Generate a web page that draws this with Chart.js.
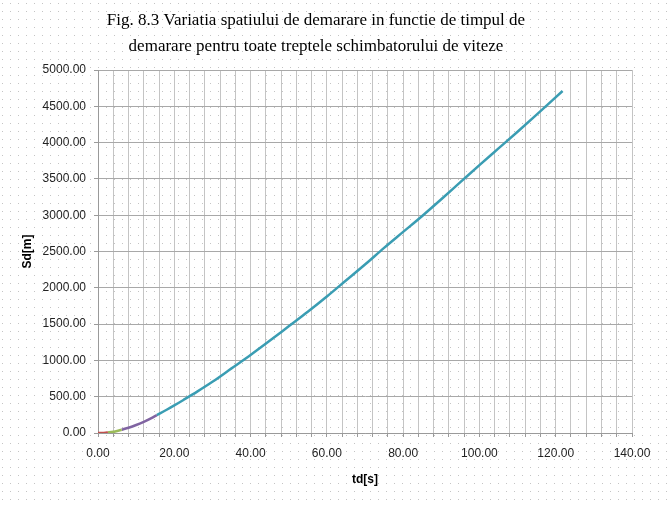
<!DOCTYPE html>
<html>
<head>
<meta charset="utf-8">
<script src="https://cdn.jsdelivr.net/npm/chart.js@4/dist/chart.umd.min.js"></script>
<style>
  html, body { margin: 0; padding: 0; background: #ffffff; }
  #wrap { width: 667px; height: 505px; }
</style>
</head>
<body>
<div id="wrap"><canvas id="c" width="667" height="505"></canvas></div>
<script>
// ---- data ----
const titleLines = [
  "Fig. 8.3 Variatia spatiului de demarare in functie de timpul de",
  "demarare pentru toate treptele schimbatorului de viteze"
];
const xTitle = "td[s]";
const yTitle = "Sd[m]";

// gear 1
const t1 = [0, 1, 2, 2.6];
const s1 = [0, 1.2, 4.5, 7.5];
// gear 2
const t2 = [2.6, 3.5, 4.5, 5.5, 6.2];
const s2 = [7.5, 13, 22, 34, 45];
// gear 3
const t3 = [6.2, 8, 10, 12, 14, 15.4];
const s3 = [45, 73, 110, 153, 205, 245];
// gear 4
const t4 = [15.4, 18, 20, 22.4, 26, 30, 35, 40, 45, 50, 55, 60, 65, 70, 75, 80, 85, 90, 95, 100, 105, 110, 115, 121.8];
const s4 = [245, 320, 380, 455, 570, 705, 890, 1075, 1270, 1470, 1670, 1880, 2100, 2320, 2550, 2770, 2990, 3220, 3455, 3690, 3920, 4150, 4385, 4711];

const xMin = 0, xMax = 140, xLabelStep = 20, xGridStep = 4;
const yMin = 0, yMax = 5000, yStep = 500;

const seriesColors = ["#c0504d", "#9bbb59", "#8064a2", "#3a9db3"];

function pts(t, s) { return t.map((v, i) => ({ x: v, y: s[i] })); }

const bgDots = {
  id: "bgDots",
  beforeDraw(chart) {
    const ctx = chart.ctx;
    ctx.save();
    ctx.fillStyle = "#ffffff";
    ctx.fillRect(0, 0, chart.width, chart.height);
    ctx.fillStyle = "#c4c4c4";
    for (let y = 3; y < chart.height; y += 8) {
      for (let x = 2; x < chart.width; x += 8) {
        ctx.fillRect(x, y, 1, 1);
      }
    }
    ctx.restore();
  }
};

const labels = [t1, t2, t3, t4];
const values = [s1, s2, s3, s4];

new Chart(document.getElementById("c"), {
  type: "line",
  data: {
    datasets: labels.map((t, i) => ({
      label: "Treapta " + (i + 1),
      data: pts(t, values[i]),
      borderColor: seriesColors[i],
      backgroundColor: seriesColors[i],
      borderWidth: 2.5,
      pointRadius: 0,
      fill: false,
      cubicInterpolationMode: "monotone"
    }))
  },
  plugins: [bgDots],
  options: {
    responsive: false,
    animation: false,
    layout: { padding: { left: 0, right: 35, top: 0, bottom: 0 } },
    plugins: {
      legend: { display: false },
      tooltip: { enabled: false },
      title: {
        display: true,
        text: titleLines,
        font: { family: "'Liberation Serif', 'Times New Roman', serif", size: 17, weight: "normal", lineHeight: 1.5 },
        color: "#000000",
        padding: { top: 8, bottom: 11 }
      }
    },
    scales: {
      x: {
        type: "linear",
        min: xMin, max: xMax,
        afterFit(scale) { scale.height = 72; },
        ticks: {
          stepSize: xGridStep,
          autoSkip: false,
          maxRotation: 0,
          padding: 9,
          color: "#222222",
          font: { family: "'Liberation Sans', Arial, sans-serif", size: 12 },
          callback: (v) => (Math.abs(v % xLabelStep) < 1e-9 ? v.toFixed(2) : "")
        },
        grid: { color: "#c4c4c4", lineWidth: 1, tickLength: 4, tickColor: "#9a9a9a" },
        border: { color: "#9a9a9a" },
        title: {
          display: true,
          text: xTitle,
          color: "#000000",
          font: { family: "'Liberation Sans', Arial, sans-serif", size: 12, weight: "bold" },
          padding: { top: 0, bottom: 18 }
        }
      },
      y: {
        type: "linear",
        min: yMin, max: yMax,
        afterFit(scale) { scale.width = 98; },
        ticks: {
          stepSize: yStep,
          padding: 8,
          color: "#222222",
          font: { family: "'Liberation Sans', Arial, sans-serif", size: 12 },
          callback: (v) => v.toFixed(2)
        },
        grid: { color: "#a8a8a8", lineWidth: 1, tickLength: 4, tickColor: "#9a9a9a" },
        border: { color: "#9a9a9a" },
        title: {
          display: true,
          text: yTitle,
          color: "#000000",
          font: { family: "'Liberation Sans', Arial, sans-serif", size: 12, weight: "bold" },
          padding: { top: 20, bottom: 0 }
        }
      }
    }
  }
});
</script>
</body>
</html>
